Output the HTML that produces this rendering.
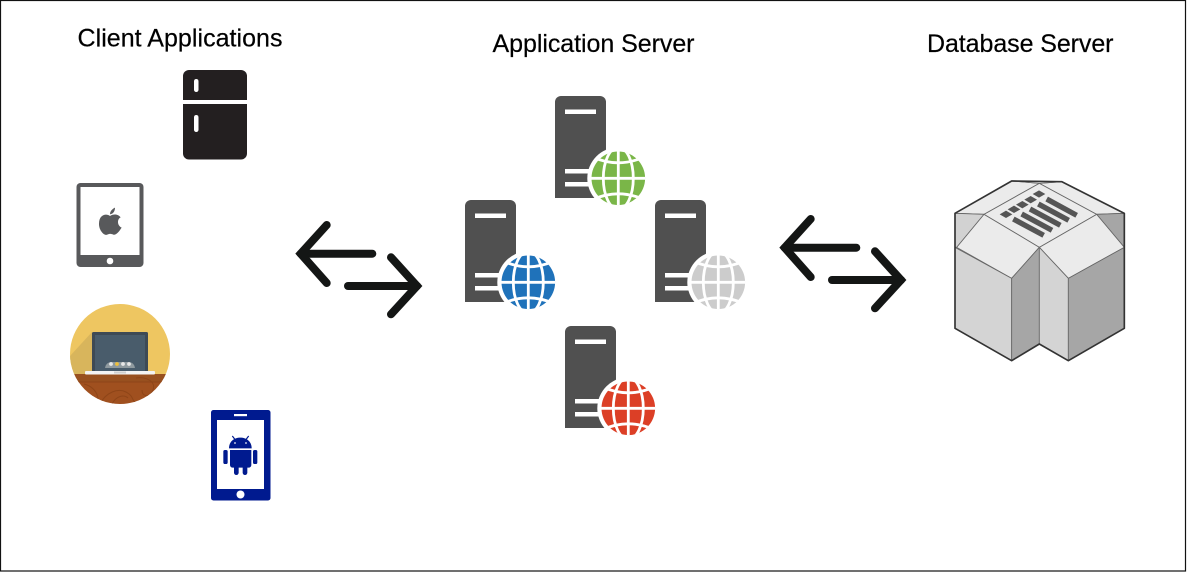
<!DOCTYPE html>
<html>
<head>
<meta charset="utf-8">
<style>
html,body{margin:0;padding:0;background:#fff;width:1187px;height:572px;overflow:hidden}
svg{display:block}
text{font-family:"Liberation Sans",Arial,sans-serif;font-size:25px;fill:#000;stroke:#000;stroke-width:.2px}
</style>
</head>
<body>
<svg width="1187" height="572" viewBox="0 0 1187 572" xmlns="http://www.w3.org/2000/svg">
<defs>
  <clipPath id="cc"><circle cx="120" cy="354" r="50"/></clipPath>
  <clipPath id="gc"><circle cx="0" cy="0" r="27"/></clipPath>
  <g id="srv">
    <path d="M0,102V6a6,6 0 0 1 6,-6H45a6,6 0 0 1 6,6V102Z" fill="#505050"/>
    <rect x="10" y="13.5" width="31" height="4.5" fill="#fff"/>
    <rect x="10" y="73" width="30" height="4.5" fill="#fff"/>
    <rect x="10" y="86" width="30" height="4.5" fill="#fff"/>
    <circle cx="63.3" cy="82.3" r="31" fill="#fff"/>
    <circle cx="63.3" cy="82.3" r="26.8" fill="currentColor"/>
    <g transform="translate(63.3,82.3)" fill="none" stroke="#fff" stroke-width="2.8" clip-path="url(#gc)">
      <path d="M0,-28V28"/>
      <ellipse cx="0" cy="0" rx="15" ry="31"/>
      <path d="M-28,0H28"/>
      <path d="M-25,-21Q0,-10 25,-21"/>
      <path d="M-25,21Q0,10 25,21"/>
    </g>
  </g>
  <g id="arr" fill="none" stroke="#141615" stroke-width="8" stroke-linecap="round" stroke-linejoin="miter">
    <path d="M87.300,43.700H15.700"/>
    <path d="M41.700,15L15.700,43.700L41.700,73"/>
    <path d="M63,76H132"/>
    <path d="M106,47.300L132,76L106,104.300"/>
  </g>
</defs>

<rect width="1187" height="572" fill="#fff"/>
<rect x="0.500" y="0.500" width="1185" height="570.500" fill="none" stroke="#111" stroke-width="1.200"/>

<text x="77.500" y="46.500" textLength="205" lengthAdjust="spacing">Client Applications</text>
<text x="492.500" y="52" textLength="202" lengthAdjust="spacing">Application Server</text>
<text x="927" y="52" textLength="186.500" lengthAdjust="spacing">Database Server</text>

<!-- Fridge -->
<path d="M183,100V76a6,6 0 0 1 6,-6H241a6,6 0 0 1 6,6V100Z" fill="#231f20"/>
<path d="M183,104H247V153.500a6,6 0 0 1 -6,6H189a6,6 0 0 1 -6,-6Z" fill="#231f20"/>
<rect x="194" y="79" width="4.500" height="13" rx="2.200" fill="#fff"/>
<rect x="194" y="115" width="4.500" height="17" rx="2.200" fill="#fff"/>

<!-- Tablet -->
<rect x="76.500" y="183" width="67" height="84" rx="4" fill="#58595b"/>
<rect x="80.500" y="187" width="59" height="68" fill="#fff"/>
<circle cx="110" cy="261" r="3.300" fill="#fff"/>
<g transform="translate(60,60) scale(.33333)" fill="#58595b">
  <path d="M150,468C140,460 118,462 117,490C116,510 132,528 142,524C148,521 153,521 160,524C170,527 180,510 185,503C172,497 170,478 182,472C172,460 158,463 150,468Z"/>
  <path d="M150,463C150,453 157,447 165,443C165,453 160,462 150,463Z"/>
</g>

<!-- Laptop -->
<g clip-path="url(#cc)">
  <rect x="70" y="304" width="100" height="70" fill="#eec661"/>
  <path d="M92,332L70,356V374H92Z" fill="#d8b55c"/>
  <rect x="70" y="374" width="100" height="30" fill="#a0501f"/>
  <rect x="70" y="374" width="100" height="8" fill="#98501f"/>
  <g fill="none" stroke="#8e4518" stroke-width="1">
    <path d="M78,382H162"/>
    <path d="M100,404C106,392 118,388 126,392C136,397 130,404 140,402"/>
    <path d="M112,404C116,396 124,394 128,398"/>
    <path d="M136,378C146,376 158,382 152,392C148,398 142,396 142,390"/>
    <path d="M84,384C92,386 98,392 98,400"/>
  </g>
  <rect x="92" y="332" width="56" height="40" rx="1.500" fill="#3e4a55"/>
  <rect x="95" y="335" width="50" height="36" fill="#495c6b"/>
  <path d="M105,368Q106,362 112,362H128Q134,362 135,368Z" fill="#8f9a9f"/>
  <circle cx="111" cy="364" r="1.900" fill="#e8e8e8"/>
  <circle cx="117" cy="364" r="1.900" fill="#eec03c"/>
  <circle cx="123" cy="364" r="1.900" fill="#e8e8e8"/>
  <circle cx="129" cy="364" r="1.900" fill="#e8e8e8"/>
  <rect x="85" y="371" width="70" height="3.500" rx="1" fill="#f3f3f3"/>
  <rect x="114" y="371.500" width="12" height="2" fill="#cfcfcf"/>
</g>

<!-- Android phone -->
<rect x="211" y="410" width="59.500" height="90.500" rx="2.500" fill="#001a8f"/>
<rect x="217" y="420" width="47" height="69" fill="#fff"/>
<rect x="234" y="414" width="13" height="2.200" fill="#fff"/>
<circle cx="240.500" cy="494.500" r="4" fill="#fff"/>
<g transform="translate(60,295) scale(.33333)" fill="#001a8f">
  <path d="M507,460C507,440 522,428 541,428C560,428 575,440 575,460Z"/>
  <path d="M517,423L527,436M566,423L556,436" stroke="#001a8f" stroke-width="3.500"/>
  <circle cx="525" cy="444" r="2.500" fill="#fff"/>
  <circle cx="558" cy="444" r="2.500" fill="#fff"/>
  <path d="M510,465H574V510a8,8 0 0 1 -8,8H518a8,8 0 0 1 -8,-8Z"/>
  <rect x="522" y="510" width="14" height="30" rx="7"/>
  <rect x="548" y="510" width="14" height="30" rx="7"/>
  <rect x="490" y="465" width="13" height="42" rx="5"/>
  <rect x="579" y="465" width="13" height="42" rx="5"/>
</g>

<!-- Arrows -->
<use href="#arr" x="285" y="210"/>
<use href="#arr" x="769" y="204"/>

<!-- Servers -->
<use href="#srv" x="555" y="96" style="color:#7ab648"/>
<use href="#srv" x="465" y="200" style="color:#1f72ba"/>
<use href="#srv" x="655" y="200" style="color:#cccccc"/>
<use href="#srv" x="565" y="326" style="color:#dc3f26"/>

<!-- Database -->
<g transform="translate(940,170) scale(.33333)">
  <g stroke="#666" stroke-width="2.500" stroke-linejoin="round">
    <polygon points="215,33 298,40 132,133 45,130" fill="#ebebeb"/>
    <polygon points="365,35 553,130 470,133 298,40" fill="#ebebeb"/>
    <polygon points="215,33 365,35 298,40" fill="#ebebeb"/>
    <polygon points="45,130 132,133 50,232 45,232" fill="#d2d2d2"/>
    <polygon points="470,133 553,130 553,232" fill="#a6a6a6"/>
    <polygon points="298,40 470,133 298,232 132,133" fill="#ebebeb"/>
    <polygon points="132,133 298,232 215,325 50,232" fill="#ebebeb"/>
    <polygon points="470,133 553,232 385,325 298,232" fill="#ebebeb"/>
    <polygon points="45,232 215,325 215,572 45,475" fill="#d4d4d4"/>
    <polygon points="215,325 298,232 298,522 215,572" fill="#a6a6a6"/>
    <polygon points="298,232 385,325 385,572 298,522" fill="#d4d4d4"/>
    <polygon points="385,325 553,232 553,475 385,572" fill="#a6a6a6"/>
  </g>
  <polygon points="215,33 365,35 553,130 553,475 385,572 298,522 215,572 45,475 45,130" fill="none" stroke="#333" stroke-width="5" stroke-linejoin="round"/>
  <g fill="#555">
    <polygon points="198,122 217,133 198,144 179,133"/>
    <polygon points="222,107 241,118 222,129 203,118"/>
    <polygon points="247,93 266,104 247,115 228,104"/>
    <polygon points="272,78 291,89 272,100 253,89"/>
    <polygon points="297,61 316,72 297,83 278,72"/>
  </g>
  <g stroke="#555" stroke-width="16" fill="none">
    <path d="M320,87L410,136"/>
    <path d="M295,102L386,151"/>
    <path d="M270,117L361,166"/>
    <path d="M245,132L336,181"/>
    <path d="M220,147L311,196"/>
  </g>
</g>
</svg>
</body>
</html>
